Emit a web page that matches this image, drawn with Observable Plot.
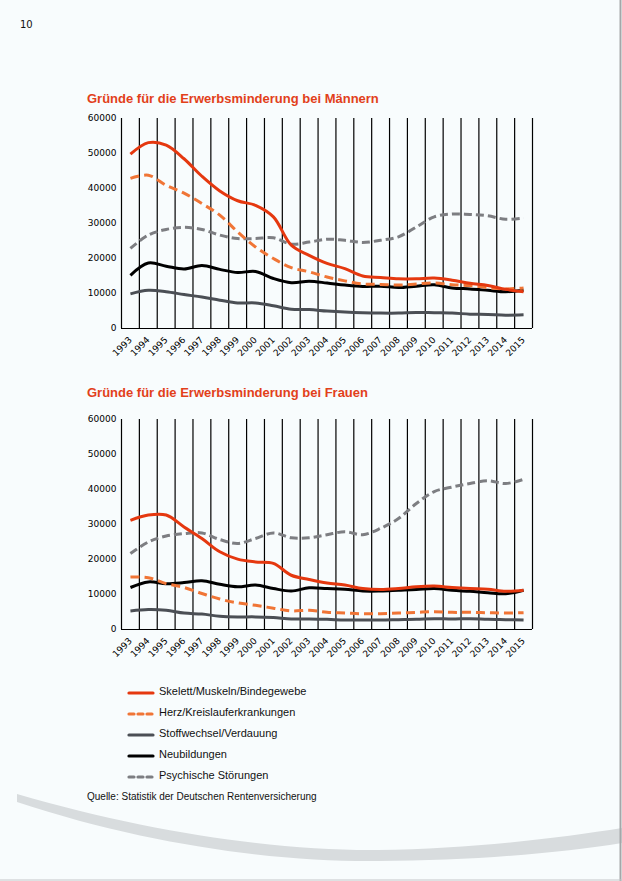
<!DOCTYPE html>
<html>
<head>
<meta charset="utf-8">
<script src="https://cdn.jsdelivr.net/npm/d3@7"></script>
<script src="https://cdn.jsdelivr.net/npm/@observablehq/plot@0.6"></script>
<style>
  html, body { margin: 0; padding: 0; }
  body { width: 622px; height: 881px; background: #f8fcfd; position: relative; overflow: hidden; font-family: "Liberation Sans", Arial, sans-serif; }
  .abs { position: absolute; }
  .title { color: #e2401a; font-weight: bold; font-size: 13px; font-family: "Liberation Sans", sans-serif; white-space: nowrap; }
  .legend-row { position: absolute; left: 126px; height: 16px; display: flex; align-items: center; font-size: 11px; color: #111; white-space: nowrap; }
  .legend-row svg { margin-right: 4px; }
</style>
</head>
<body>
<script>
// ---------- data ----------
const years = [1993,1994,1995,1996,1997,1998,1999,2000,2001,2002,2003,2004,2005,2006,2007,2008,2009,2010,2011,2012,2013,2014,2015];
const yTicks = [0,10000,20000,30000,40000,50000,60000];
const seriesNames = ["Skelett/Muskeln/Bindegewebe","Herz/Kreislauferkrankungen","Stoffwechsel/Verdauung","Neubildungen","Psychische Störungen"];

// Männer
const skelettM = [49800,53100,52400,48500,43500,39300,36500,35200,31900,23800,20900,18600,17100,15000,14600,14200,14200,14400,13800,12900,12300,11200,10500];
const herzM    = [42900,43800,40900,38700,35700,32400,27600,23300,20000,17400,16200,14700,13600,12700,12600,12400,12700,13000,12500,12300,11700,11300,11600];
const stoffM   = [9900,10900,10500,9700,9000,8100,7300,7300,6500,5500,5400,5000,4700,4500,4400,4400,4600,4500,4400,4100,4000,3800,3900];
const neuM     = [15200,18700,17800,17000,18000,16900,16000,16300,14300,13100,13500,13000,12400,12000,12100,11700,12100,12500,11600,11300,10900,10500,10900];
const psychM   = [22900,26700,28300,28900,28300,26700,25700,25700,25900,24100,24700,25500,25200,24600,25200,26200,29000,31900,32700,32600,32200,31200,31600];

// Frauen
const skelettF = [31200,32700,32700,29300,26000,22200,20100,19300,18900,15500,14300,13300,12700,11700,11400,11700,12200,12400,12000,11700,11500,10900,11200];
const herzF    = [15000,14800,13100,12000,10300,8700,7600,6900,6100,5300,5500,4900,4700,4500,4500,4700,4900,5100,4900,4900,4800,4700,4800];
const stoffF   = [5300,5700,5500,4700,4400,3800,3600,3600,3400,3000,3000,2900,2700,2700,2700,2800,2900,3100,3000,3100,2900,2800,2700];
const neuF     = [12000,13600,13100,13400,13900,12900,12200,12700,11700,11000,11900,11700,11500,11000,11000,11200,11400,11700,11200,10900,10500,10200,11200];
const psychF   = [21700,25000,26700,27400,27600,25700,24600,26000,27600,26200,26200,27100,27900,27100,28900,31700,36000,39400,40700,41700,42500,41700,42900];

// ---------- styles ----------
const styles = {
  "Skelett/Muskeln/Bindegewebe": {stroke: "#e5380f", dash: null, legendDash: null},
  "Herz/Kreislauferkrankungen": {stroke: "#f07536", dash: "9,5", legendDash: "5,4"},
  "Stoffwechsel/Verdauung": {stroke: "#4b4f55", dash: null, legendDash: null},
  "Neubildungen": {stroke: "#000000", dash: null, legendDash: null},
  "Psychische Störungen": {stroke: "#7d7e82", dash: "8,4", legendDash: "5,4"}
};
const drawOrder = ["Stoffwechsel/Verdauung","Neubildungen","Psychische Störungen","Herz/Kreislauferkrankungen","Skelett/Muskeln/Bindegewebe"];

function rows(values) { return years.map((year, i) => ({year, value: values[i]})); }

function makeChart(seriesValues) {
  const bounds = years.map(y => y - 0.5).concat([years[years.length - 1] + 0.5]);
  const marks = [
    Plot.ruleX(bounds, {stroke: "#000", strokeWidth: 1.2}),
    Plot.ruleY([0], {stroke: "#000", strokeWidth: 1.2}),
    Plot.axisY({ticks: yTicks, tickSize: 0, tickPadding: 5, tickFormat: d3.format("d"), label: null, fill: "#000"}),
    Plot.axisX({ticks: years, tickSize: 0, tickPadding: 10, tickRotate: -45, tickFormat: d => String(d), label: null, fill: "#000"})
  ];
  for (const name of drawOrder) {
    const st = styles[name];
    marks.push(Plot.line(rows(seriesValues[name]), {
      x: "year", y: "value", stroke: st.stroke, strokeWidth: 3,
      strokeDasharray: st.dash || undefined, curve: "catmull-rom", strokeLinecap: "butt"
    }));
  }
  return Plot.plot({
    width: 622, height: 265,
    marginTop: 10, marginBottom: 45, marginLeft: 121, marginRight: 90,
    x: {type: "linear", domain: [bounds[0], bounds[bounds.length - 1]]},
    y: {domain: [yTicks[0], yTicks[yTicks.length - 1]]},
    style: {fontFamily: "DejaVu Sans, sans-serif", fontSize: "9px", background: "transparent", color: "#000", overflow: "visible"},
    marks
  });
}

function place(el, left, top) { el.classList.add("abs"); el.style.left = left + "px"; el.style.top = top + "px"; document.body.appendChild(el); return el; }
function div(text, cls, left, top, extra) { const d = document.createElement("div"); d.textContent = text; if (cls) d.className = cls; Object.assign(d.style, extra || {}); return place(d, left, top); }

// page number
div("10", null, 20, 19, {fontFamily: "DejaVu Sans, sans-serif", fontSize: "10px", color: "#111"});

// Chart 1
div("Gründe für die Erwerbsminderung bei Männern", "title", 87, 91);
const c1 = makeChart({
  "Skelett/Muskeln/Bindegewebe": skelettM, "Herz/Kreislauferkrankungen": herzM,
  "Stoffwechsel/Verdauung": stoffM, "Neubildungen": neuM, "Psychische Störungen": psychM
});
place(c1, 0, 108);

// Chart 2
div("Gründe für die Erwerbsminderung bei Frauen", "title", 87, 385);
const c2 = makeChart({
  "Skelett/Muskeln/Bindegewebe": skelettF, "Herz/Kreislauferkrankungen": herzF,
  "Stoffwechsel/Verdauung": stoffF, "Neubildungen": neuF, "Psychische Störungen": psychF
});
place(c2, 0, 409);

// Legend
const legendTop = 683;
seriesNames.forEach((name, i) => {
  const row = document.createElement("div");
  row.className = "legend-row";
  row.style.top = (legendTop + i * 21) + "px";
  const st = styles[name];
  const ns = "http://www.w3.org/2000/svg";
  const svg = document.createElementNS(ns, "svg");
  svg.setAttribute("width", 29); svg.setAttribute("height", 16);
  const ln = document.createElementNS(ns, "line");
  ln.setAttribute("x1", 3); ln.setAttribute("x2", 27); ln.setAttribute("y1", 10); ln.setAttribute("y2", 10);
  ln.setAttribute("stroke", st.stroke); ln.setAttribute("stroke-width", 3.2);
  ln.setAttribute("stroke-linecap", "round");
  if (st.legendDash) ln.setAttribute("stroke-dasharray", st.legendDash);
  svg.appendChild(ln);
  row.appendChild(svg);
  const t = document.createElement("span"); t.textContent = name; row.appendChild(t);
  document.body.appendChild(row);
});

// Source
div("Quelle: Statistik der Deutschen Rentenversicherung", null, 87, 791, {fontSize: "10px", color: "#111", whiteSpace: "nowrap"});

// Decoration: swoosh and page border
const ns = "http://www.w3.org/2000/svg";
const deco = document.createElementNS(ns, "svg");
deco.setAttribute("width", 622); deco.setAttribute("height", 881);
deco.style.position = "absolute"; deco.style.left = "0"; deco.style.top = "0"; deco.style.pointerEvents = "none";
const sw = document.createElementNS(ns, "path");
sw.setAttribute("d", "M17,794 C150,833 280,851 378,850 C470,849 560,838 622,828 L622,843 C560,853 470,861 378,861 C280,862 150,846 17,802 Z");
sw.setAttribute("fill", "#d8dcde");
deco.appendChild(sw);
const rb = document.createElementNS(ns, "line");
rb.setAttribute("x1", 620.5); rb.setAttribute("x2", 620.5); rb.setAttribute("y1", 0); rb.setAttribute("y2", 881);
rb.setAttribute("stroke", "#a5a7a9"); rb.setAttribute("stroke-width", 2);
deco.appendChild(rb);
const bb = document.createElementNS(ns, "line");
bb.setAttribute("x1", 0); bb.setAttribute("x2", 622); bb.setAttribute("y1", 880); bb.setAttribute("y2", 880);
bb.setAttribute("stroke", "#c4c6c8"); bb.setAttribute("stroke-width", 1);
deco.appendChild(bb);
document.body.insertBefore(deco, document.body.firstChild);
</script>
</body>
</html>
